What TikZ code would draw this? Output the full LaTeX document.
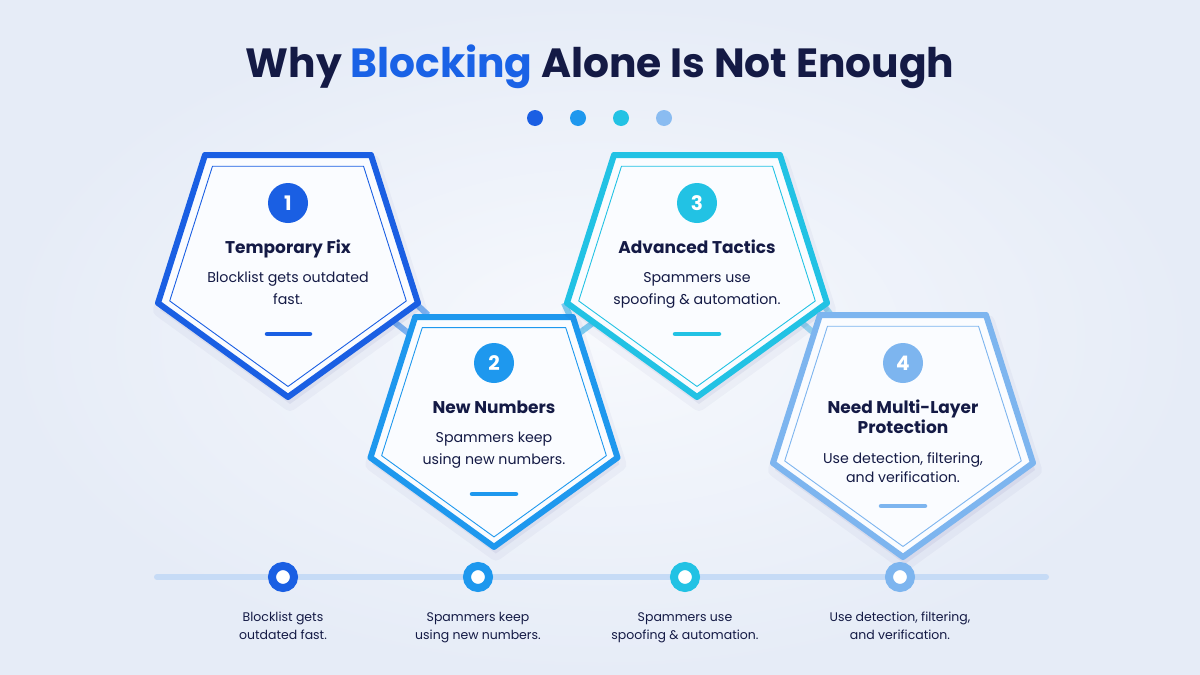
\documentclass[tikz,border=0pt]{standalone}
\usepackage{fontspec}
\setmainfont{Poppins}
\definecolor{bgin}{HTML}{F7F9FD}
\definecolor{bgout}{HTML}{E6ECF7}
\definecolor{navy}{HTML}{141A45}
\definecolor{tblue}{HTML}{1A62E6}
\definecolor{ca}{HTML}{1A5FE3}
\definecolor{cb}{HTML}{1E98EE}
\definecolor{cc}{HTML}{22C2E4}
\definecolor{cd}{HTML}{7DB5EF}
\definecolor{tline}{HTML}{C6DBF6}
\definecolor{pfill}{HTML}{FAFCFF}
\newcommand\pentpath{(-83,0) -- (83,0) -- (130,148) -- (0,242) -- (-130,148) -- cycle}
\newcommand\drawpent[4]{%
  \begin{scope}[shift={(#1,#2)}, scale=#3]
    \begin{scope}[shift={(2,7)}]
      \fill[black!60!blue, opacity=0.05, line width=14pt, line join=round, draw=black!60!blue, draw opacity=0.03] \pentpath;
    \end{scope}
    \draw[draw=#4, fill=pfill, line width=6pt, line join=round] \pentpath;
    \begin{scope}[shift={(0,125)}, scale=0.91, shift={(0,-125)}]
      \draw[draw=#4, line width=0.9pt, line join=round] \pentpath;
    \end{scope}
  \end{scope}}
\tikzset{
  numc/.style={circle, minimum size=40pt, inner sep=0pt, text=white, font=\fontsize{20}{20}\selectfont\bfseries},
  ttl/.style={anchor=base, text=navy, align=center, font=\fontsize{17}{20}\selectfont\bfseries, inner sep=0pt},
  desc/.style={anchor=base, text=navy, align=center, font=\fontsize{14.2}{22}\selectfont, inner sep=0pt},
  btxt/.style={anchor=base, text=navy, align=center, font=\fontsize{12.5}{18}\selectfont, inner sep=0pt},
  accent/.style={line width=4.5pt, line cap=round},
  rung/.style={line width=6pt, opacity=0.55},
  ring/.style={circle, minimum size=22pt, inner sep=0pt, line width=8pt, fill=white},
  dotc/.style={circle, minimum size=16pt, inner sep=0pt}
}
\begin{document}
\begin{tikzpicture}[x=1pt,y=-1pt]
\useasboundingbox (0,0) rectangle (1200,675);
\shade[inner color=bgin, outer color=bgout] (0,0) rectangle (1200,675);

% title
\node[anchor=base, text=navy, font=\fontsize{40.8}{40}\selectfont\bfseries, inner sep=0pt] (title) at (600,77) {Why \textcolor{tblue}{Blocking} Alone Is Not Enough};
\node[dotc, fill=ca] (d1) at (535,118) {};
\node[dotc, fill=cb] (d2) at (578,118) {};
\node[dotc, fill=cc] (d3) at (621,118) {};
\node[dotc, fill=cd!90!white] (d4) at (664,118) {};

% timeline
\coordinate (tl0) at (157,577);
\coordinate (tl1) at (1046,577);
\draw[tline, line width=6pt, line cap=round] (tl0) -- (tl1);

% rungs between pentagons
\coordinate (r1a) at (413,301); \coordinate (r1b) at (428,315);
\coordinate (r1c) at (393,321); \coordinate (r1d) at (412,336);
\coordinate (r2a) at (564,303); \coordinate (r2b) at (570,316);
\coordinate (r2c) at (578,334); \coordinate (r2d) at (593,323);
\coordinate (r3a) at (822,303); \coordinate (r3b) at (831,315);
\coordinate (r3c) at (801,322); \coordinate (r3d) at (815,334);
\draw[rung, ca!50!cb] (r1a) -- (r1b);
\draw[rung, ca!50!cb] (r1c) -- (r1d);
\draw[rung, cb!50!cc] (r2a) -- (r2b);
\draw[rung, cb!50!cc] (r2c) -- (r2d);
\draw[rung, cc!50!cd] (r3a) -- (r3b);
\draw[rung, cc!50!cd] (r3c) -- (r3d);

% pentagons
\drawpent{288}{155}{1}{ca}
\drawpent{494}{317}{0.95}{cb}
\drawpent{697}{155}{1}{cc}
\drawpent{903}{315}{1}{cd}

% pentagon 1
\node[numc, fill=ca] (n1) at (288,203) {1};
\node[ttl] (t1) at (288,253) {Temporary Fix};
\node[desc] (s1) at (288,304) {Blocklist gets outdated\\fast.};
\coordinate (a1l) at (267,334); \coordinate (a1r) at (310,334);
\draw[accent, ca] (a1l) -- (a1r);

% pentagon 2
\node[numc, fill=cb] (n2) at (494,363) {2};
\node[ttl] (t2) at (494,413) {New Numbers};
\node[desc] (s2) at (494,464) {Spammers keep\\using new numbers.};
\coordinate (a2l) at (472,494); \coordinate (a2r) at (516,494);
\draw[accent, cb] (a2l) -- (a2r);

% pentagon 3
\node[numc, fill=cc] (n3) at (697,203) {3};
\node[ttl] (t3) at (697,253) {Advanced Tactics};
\node[desc] (s3) at (697,304) {Spammers use\\spoofing \& automation.};
\coordinate (a3l) at (675,334); \coordinate (a3r) at (719,334);
\draw[accent, cc] (a3l) -- (a3r);

% pentagon 4
\node[numc, fill=cd] (n4) at (903,363) {4};
\node[ttl] (t4) at (903,433) {Need Multi-Layer\\Protection};
\node[desc, font=\fontsize{14.2}{19}\selectfont] (s4) at (903,482) {Use detection, filtering,\\and verification.};
\coordinate (a4l) at (881,506); \coordinate (a4r) at (925,506);
\draw[accent, cd] (a4l) -- (a4r);

% timeline rings
\node[ring, draw=ca] (m1) at (283,577) {};
\node[ring, draw=cb] (m2) at (478,577) {};
\node[ring, draw=cc] (m3) at (685,577) {};
\node[ring, draw=cd] (m4) at (900,577) {};

% bottom texts
\node[btxt] (b1) at (283,639) {Blocklist gets\\outdated fast.};
\node[btxt] (b2) at (478,639) {Spammers keep\\using new numbers.};
\node[btxt] (b3) at (685,639) {Spammers use\\spoofing \& automation.};
\node[btxt] (b4) at (900,639) {Use detection, filtering,\\and verification.};
\end{tikzpicture}
\end{document}
